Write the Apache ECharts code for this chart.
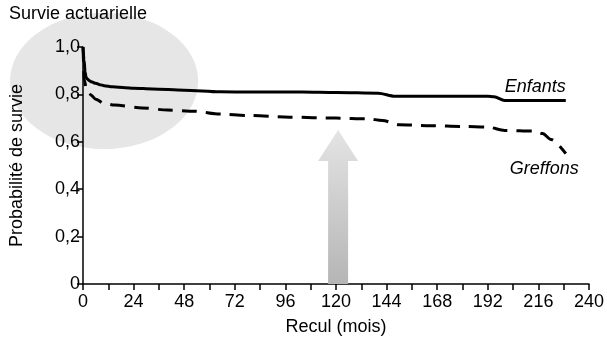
<!DOCTYPE html>
<html>
<head>
<meta charset="utf-8">
<script src="https://cdn.jsdelivr.net/npm/echarts@6/dist/echarts.min.js"></script>
<style>
html,body{margin:0;padding:0;background:#fff;}
#chart{width:607px;height:341px;}
</style>
</head>
<body>
<div id="chart"></div>
<script>
// ---- data ----
const enfantsMonths   = [0, 0.5, 1, 1.5, 2, 3, 4, 6, 8, 10, 14, 20, 24, 33, 48, 65, 80, 104, 120, 140, 148, 192, 195, 200, 229];
const enfantsSurvival = [1.0, 0.946, 0.893, 0.872, 0.865, 0.858, 0.853, 0.847, 0.841, 0.837, 0.832, 0.828, 0.826, 0.823, 0.818, 0.811, 0.81, 0.81, 0.808, 0.805, 0.792, 0.792, 0.79, 0.774, 0.774];
const greffonsMonths   = [0, 0.7, 1.4, 2.5, 4, 6, 10, 15, 28, 40, 53, 65, 78, 98, 120, 135, 142, 150, 165, 180, 192, 200, 214, 218, 222, 229];
const greffonsSurvival = [1.0, 0.86, 0.83, 0.81, 0.795, 0.78, 0.762, 0.755, 0.743, 0.734, 0.729, 0.717, 0.711, 0.704, 0.70, 0.697, 0.69, 0.672, 0.668, 0.665, 0.662, 0.648, 0.645, 0.635, 0.61, 0.55];
const seriesNames = ['Enfants', 'Greffons'];
const xTickStep = 24;
const yTickStep = 0.2;
const arrowMonth = 121;
const titleText = 'Survie actuarielle';
const xAxisTitle = 'Recul (mois)';
const yAxisTitle = 'Probabilité de survie';

const enfantsData = enfantsMonths.map((m, i) => [m, enfantsSurvival[i]]);
const greffonsData = greffonsMonths.map((m, i) => [m, greffonsSurvival[i]]);

const FONT = 'Liberation Sans, Arial, sans-serif';
const chart = echarts.init(document.getElementById('chart'));
chart.setOption({
  animation: false,
  backgroundColor: '#fff',
  title: {
    text: titleText, left: 4, top: 0,
    textStyle: {fontFamily: FONT, fontSize: 18, fontWeight: 'normal', color: '#000'}
  },
  grid: {left: 79, right: 17, top: 47, bottom: 57},
  xAxis: {
    type: 'value', min: 0, max: 240, interval: xTickStep,
    name: xAxisTitle, nameLocation: 'middle', nameGap: 34,
    nameTextStyle: {fontFamily: FONT, fontSize: 18, color: '#000'},
    axisLine: {lineStyle: {color: '#000', width: 1.5}},
    axisTick: {show: true, length: 6, lineStyle: {color: '#000', width: 1.5}},
    minorTick: {show: true, splitNumber: 2, length: 6, lineStyle: {color: '#000', width: 1.5}},
    axisLabel: {fontFamily: FONT, fontSize: 18, color: '#000', margin: 9},
    splitLine: {show: false}
  },
  yAxis: {
    type: 'value', min: 0, max: 1, interval: yTickStep,
    name: yAxisTitle, nameLocation: 'middle', nameGap: 57, nameRotate: 90,
    nameTextStyle: {fontFamily: FONT, fontSize: 18, color: '#000'},
    axisLine: {show: true, lineStyle: {color: '#000', width: 1.5}},
    axisTick: {show: true, length: 6, lineStyle: {color: '#000', width: 1.5}},
    axisLabel: {
      fontFamily: FONT, fontSize: 18, color: '#000', margin: 3,
      formatter: v => v === 0 ? '0' : v.toFixed(1).replace('.', ',')
    },
    splitLine: {show: false}
  },
  series: [
    {
      name: seriesNames[0], type: 'line', data: enfantsData, showSymbol: false,
      smooth: 0.3, smoothMonotone: 'x', z: 5,
      lineStyle: {color: '#000', width: 3}
    },
    {
      name: seriesNames[1], type: 'line', data: greffonsData, showSymbol: false,
      smooth: 0.3, smoothMonotone: 'x', z: 4,
      lineStyle: {color: '#000', width: 3, type: [15, 9]}
    }
  ]
});

function drawExtras() {
  const c = p => chart.convertToPixel({gridIndex: 0}, p);
  const base = c([arrowMonth, 0]);
  const ax = base[0];
  const eC = c([10, 0.83]);
  const eEnd = c([enfantsMonths[enfantsMonths.length - 1], enfantsSurvival[enfantsSurvival.length - 1]]);
  const gEnd = c([greffonsMonths[greffonsMonths.length - 1], greffonsSurvival[greffonsSurvival.length - 1]]);
  const headTopY = base[1] - 154;
  const headBaseY = base[1] - 123;
  chart.setOption({
    graphic: [
      {
        type: 'ellipse', z: -10, silent: true,
        shape: {cx: eC[0], cy: 81, rx: 94, ry: 68},
        style: {fill: '#e6e6e6'}
      },
      {
        type: 'polygon', z: 1, silent: true,
        shape: {points: [
          [ax - 10, base[1]], [ax - 10, headBaseY], [ax - 20, headBaseY],
          [ax, headTopY], [ax + 20, headBaseY], [ax + 10, headBaseY], [ax + 10, base[1]]
        ]},
        style: {fill: new echarts.graphic.LinearGradient(0, 0, 0, 1, [
          {offset: 0, color: '#e4e4e4'}, {offset: 1, color: '#b5b5b5'}
        ])}
      },
      {
        type: 'text', z: 10, silent: true,
        x: eEnd[0], y: eEnd[1] - 5,
        style: {text: seriesNames[0], fontFamily: FONT, fontSize: 18, fontStyle: 'italic',
          fill: '#000', align: 'right', verticalAlign: 'bottom'}
      },
      {
        type: 'text', z: 10, silent: true,
        x: gEnd[0] + 13, y: gEnd[1] + 6,
        style: {text: seriesNames[1], fontFamily: FONT, fontSize: 18, fontStyle: 'italic',
          fill: '#000', align: 'right', verticalAlign: 'top'}
      }
    ]
  });
}
drawExtras();
</script>
</body>
</html>
